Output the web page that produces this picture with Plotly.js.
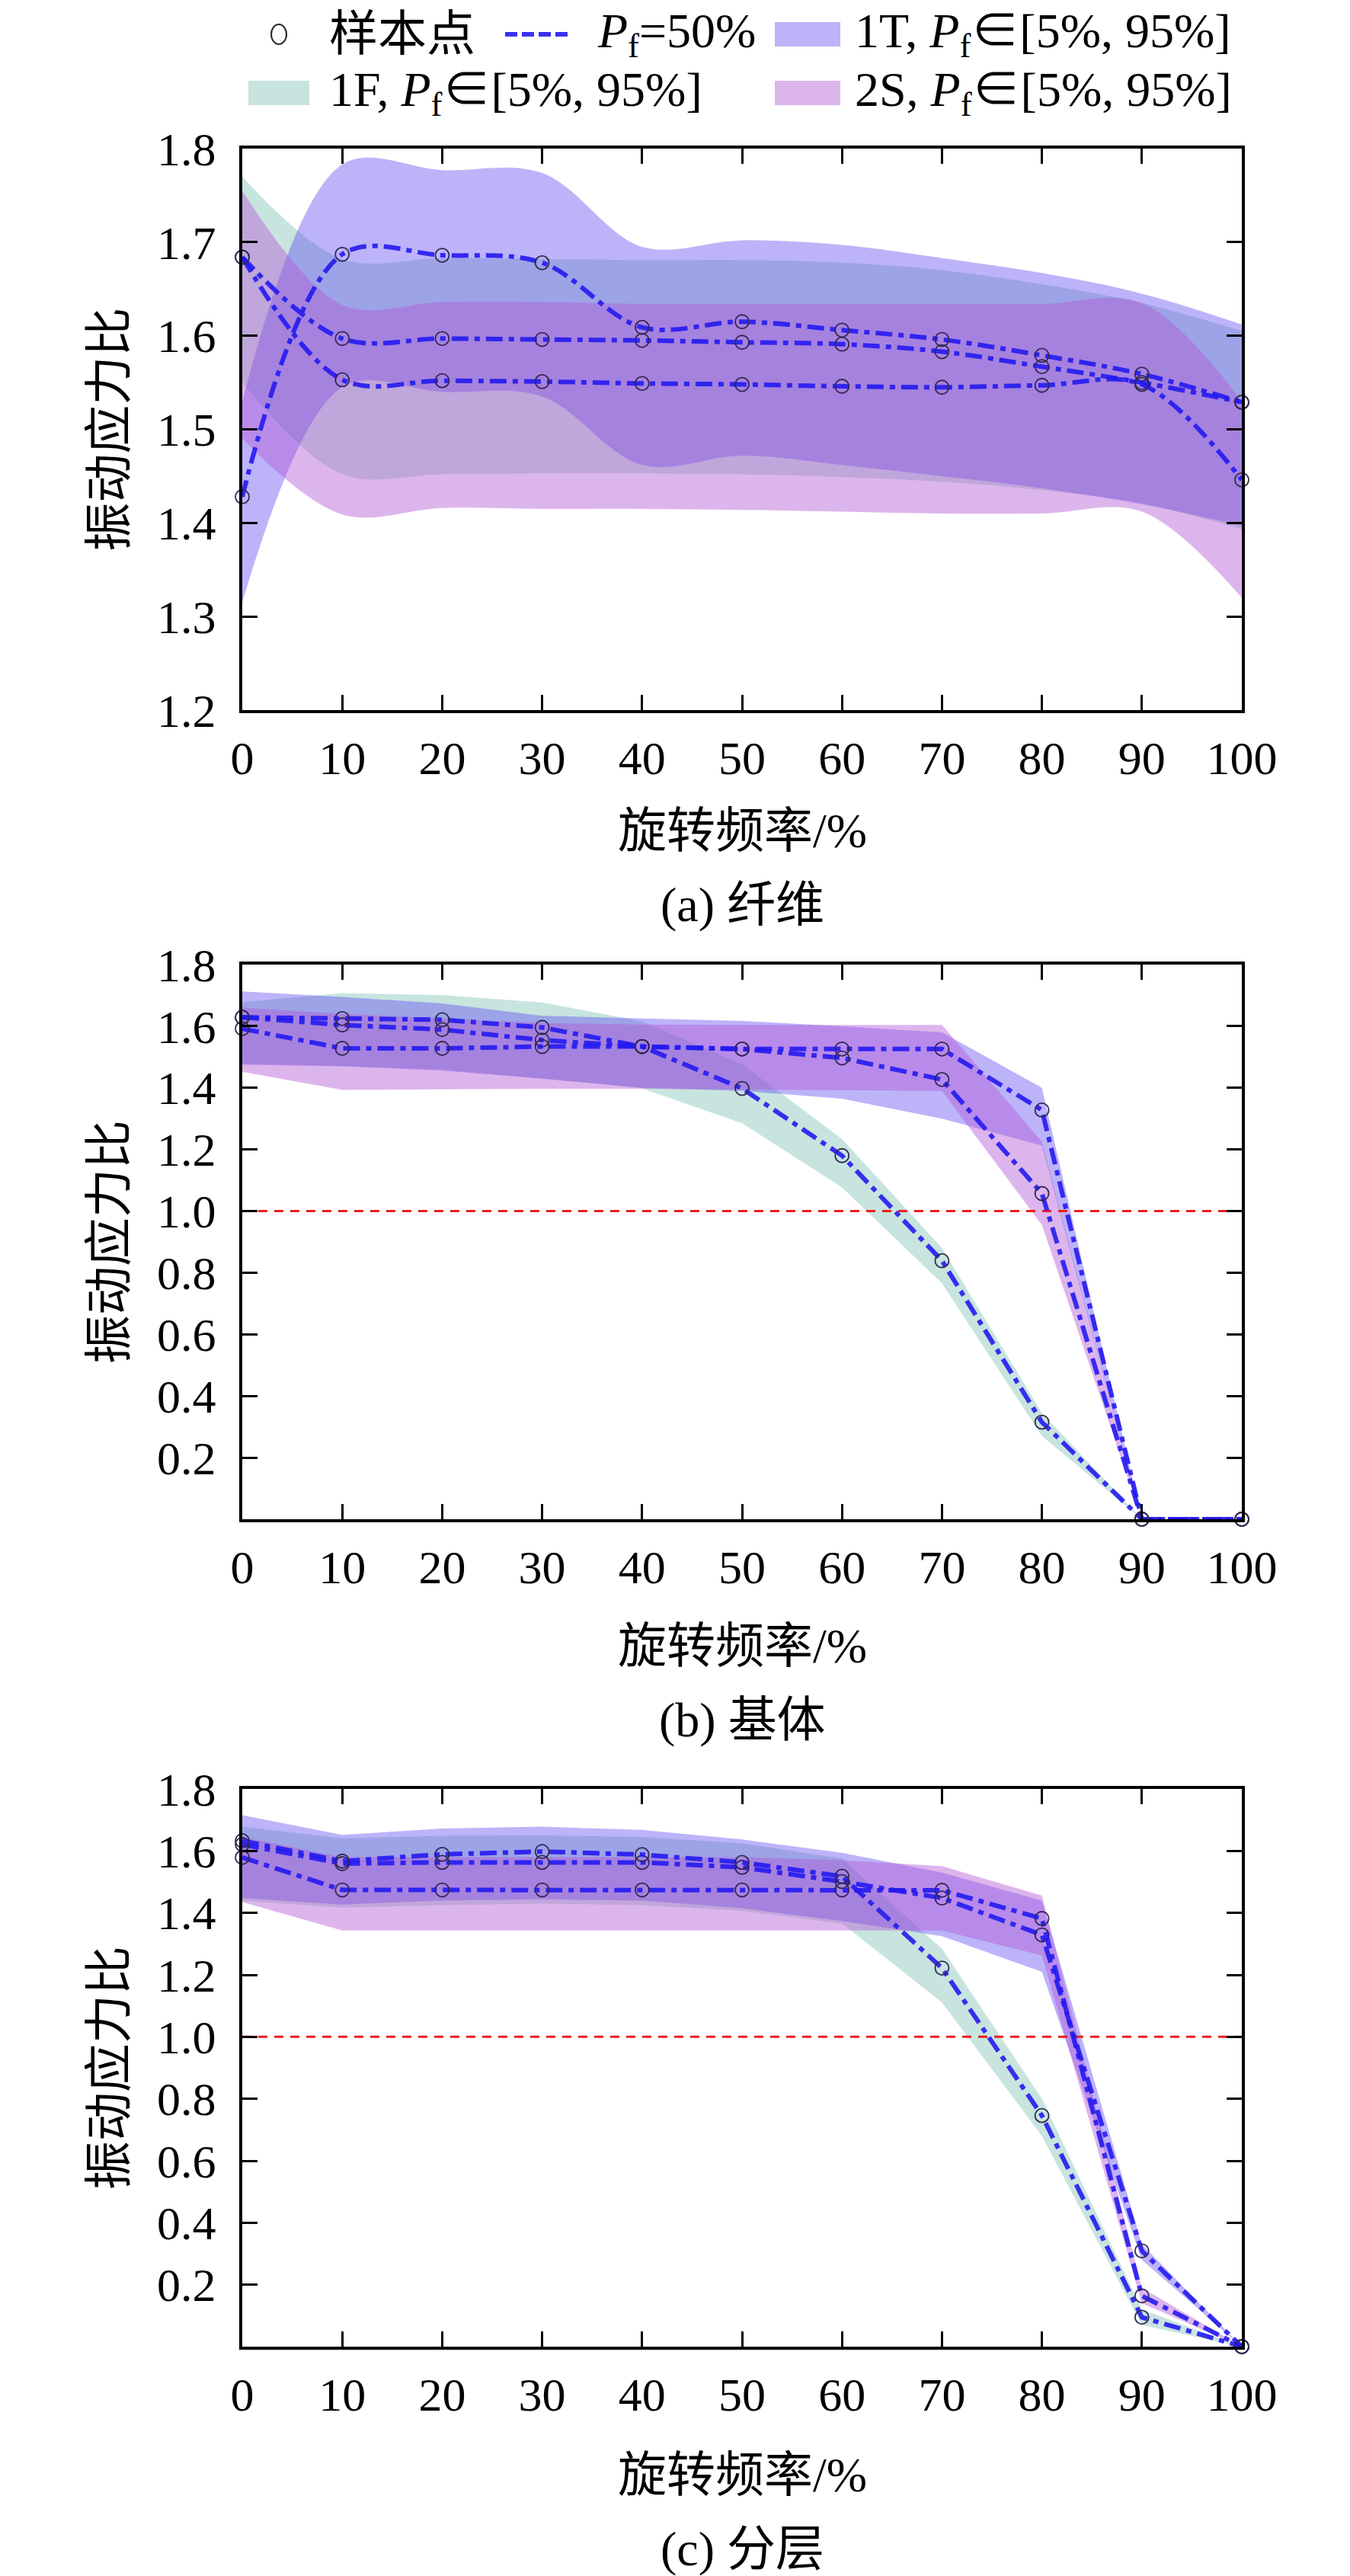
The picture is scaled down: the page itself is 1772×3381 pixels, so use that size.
<!DOCTYPE html>
<html>
<head>
<meta charset="utf-8">
<script src="https://cdn.plot.ly/plotly-3.0.1.min.js"></script>
<style>html,body{margin:0;padding:0;background:#fff}</style>
</head>
<body>
<div id="chart" style="width:1772px;height:3381px"></div>
<script>
// ─── data: rotation frequency (%) vs vibration stress ratio ───
var freq = [0, 10, 20, 30, 40, 50, 60, 70, 80, 90, 100];
var threshold = 1.0;

// (a) fibre
var fib1T_med = [1.428, 1.687, 1.686, 1.678, 1.609, 1.615, 1.606, 1.596, 1.579, 1.559, 1.529];
var fib1T_lo  = [1.315, 1.545, 1.540, 1.535, 1.462, 1.472, 1.462, 1.450, 1.437, 1.420, 1.397];
var fib1T_hi  = [1.530, 1.783, 1.777, 1.774, 1.695, 1.702, 1.697, 1.683, 1.667, 1.645, 1.612];
var fib1F_med = [1.684, 1.597, 1.597, 1.596, 1.595, 1.593, 1.591, 1.583, 1.567, 1.550, 1.529];
var fib1F_lo  = [1.550, 1.452, 1.452, 1.453, 1.453, 1.452, 1.449, 1.444, 1.435, 1.421, 1.393];
var fib1F_hi  = [1.770, 1.682, 1.683, 1.682, 1.681, 1.681, 1.678, 1.670, 1.655, 1.635, 1.605];
var fib2S_med = [1.684, 1.553, 1.552, 1.551, 1.549, 1.548, 1.546, 1.545, 1.547, 1.548, 1.446];
var fib2S_lo  = [1.490, 1.409, 1.416, 1.415, 1.415, 1.414, 1.412, 1.410, 1.410, 1.412, 1.320];
var fib2S_hi  = [1.755, 1.633, 1.636, 1.636, 1.634, 1.634, 1.634, 1.634, 1.634, 1.635, 1.530];

// (b) matrix
var mat1T_med = [1.629, 1.604, 1.589, 1.555, 1.534, 1.526, 1.526, 1.526, 1.328, 0, 0];
var mat1T_lo  = [1.475, 1.470, 1.456, 1.430, 1.400, 1.390, 1.365, 1.300, 1.213, 0, 0];
var mat1T_hi  = [1.713, 1.695, 1.674, 1.634, 1.625, 1.617, 1.600, 1.580, 1.400, 0, 0];
var mat1F_med = [1.629, 1.625, 1.621, 1.596, 1.534, 1.398, 1.180, 0.839, 0.315, 0, 0];
var mat1F_lo  = [1.480, 1.470, 1.460, 1.430, 1.398, 1.285, 1.077, 0.766, 0.270, 0, 0];
var mat1F_hi  = [1.678, 1.707, 1.701, 1.677, 1.616, 1.477, 1.234, 0.880, 0.345, 0, 0];
var mat2S_med = [1.592, 1.528, 1.528, 1.534, 1.534, 1.526, 1.497, 1.427, 1.057, 0, 0];
var mat2S_lo  = [1.452, 1.393, 1.395, 1.397, 1.397, 1.395, 1.392, 1.390, 0.955, 0, 0];
var mat2S_hi  = [1.660, 1.640, 1.625, 1.610, 1.605, 1.604, 1.604, 1.604, 1.225, 0, 0];

// (c) delamination
var del1T_med = [1.621, 1.559, 1.563, 1.563, 1.563, 1.547, 1.501, 1.448, 1.329, 0.309, 0];
var del1T_lo  = [1.448, 1.427, 1.440, 1.444, 1.440, 1.415, 1.374, 1.325, 1.210, 0.280, 0];
var del1T_hi  = [1.715, 1.652, 1.672, 1.678, 1.668, 1.637, 1.594, 1.530, 1.440, 0.330, 0];
var del1F_med = [1.633, 1.567, 1.589, 1.598, 1.588, 1.563, 1.518, 1.222, 0.746, 0.095, 0];
var del1F_lo  = [1.440, 1.417, 1.425, 1.430, 1.425, 1.407, 1.366, 1.111, 0.680, 0.070, 0];
var del1F_hi  = [1.678, 1.641, 1.649, 1.650, 1.645, 1.625, 1.575, 1.284, 0.800, 0.120, 0];
var del2S_med = [1.579, 1.474, 1.474, 1.474, 1.474, 1.474, 1.474, 1.473, 1.382, 0.164, 0];
var del2S_lo  = [1.435, 1.343, 1.343, 1.343, 1.343, 1.343, 1.343, 1.343, 1.263, 0.140, 0];
var del2S_hi  = [1.645, 1.580, 1.580, 1.580, 1.580, 1.580, 1.570, 1.551, 1.456, 0.190, 0];

var yTicksA = [1.2, 1.3, 1.4, 1.5, 1.6, 1.7, 1.8];
var yTicksBC = [0.2, 0.4, 0.6, 0.8, 1.0, 1.2, 1.4, 1.6, 1.8];

var captions = ['(a) 纤维', '(b) 基体', '(c) 分层'];
var xTitle = '旋转频率/%';
var yTitle = '振动应力比';

// ─── style ───
var FONT = '"Liberation Serif", "Times New Roman", "Noto Sans CJK SC", serif';
var W = 1772, H = 3381;
var FILL_1T = 'rgba(95,75,240,0.42)';
var FILL_1F = 'rgba(110,185,170,0.38)';
var FILL_2S = 'rgba(180,90,215,0.45)';
var LINE_C = 'rgba(35,25,240,0.9)';
var DASHDOT = '22px,8px,7px,8px';

// panel boxes in pixels (left/right shared, top/bottom per panel)
var PX_L = 318, PX_R = 1630;
var boxes = [[195, 932], [1266, 1994], [2348, 3080]];
var titleY = [1090, 2160, 3248];
var captionY = [1188, 2257, 3345];

function px(x) { return x / W; }
function py(y) { return 1 - y / H; }

var panels = [
  { shape: 'spline', yr: [1.2, 1.8], ticks: yTicksA,
    T: [fib1T_med, fib1T_lo, fib1T_hi], F: [fib1F_med, fib1F_lo, fib1F_hi], S: [fib2S_med, fib2S_lo, fib2S_hi], ref: false },
  { shape: 'linear', yr: [0, 1.8], ticks: yTicksBC,
    T: [mat1T_med, mat1T_lo, mat1T_hi], F: [mat1F_med, mat1F_lo, mat1F_hi], S: [mat2S_med, mat2S_lo, mat2S_hi], ref: true },
  { shape: 'linear', yr: [0, 1.8], ticks: yTicksBC,
    T: [del1T_med, del1T_lo, del1T_hi], F: [del1F_med, del1F_lo, del1F_hi], S: [del2S_med, del2S_lo, del2S_hi], ref: true }
];

var traces = [];
var layout = {
  width: W, height: H,
  margin: { l: 0, r: 0, t: 0, b: 0, autoexpand: false },
  paper_bgcolor: '#fff', plot_bgcolor: 'rgba(0,0,0,0)',
  showlegend: false,
  font: { family: FONT, color: '#000' },
  annotations: [], shapes: []
};

function band(lo, hi, color, xa, ya, shape) {
  traces.push({ type: 'scatter', mode: 'lines', x: freq, y: lo, xaxis: xa, yaxis: ya,
    line: { width: 0, shape: shape, color: color }, hoverinfo: 'skip' });
  traces.push({ type: 'scatter', mode: 'lines', x: freq, y: hi, xaxis: xa, yaxis: ya,
    fill: 'tonexty', fillcolor: color, line: { width: 0, shape: shape, color: color }, hoverinfo: 'skip' });
}

function median(y, xa, ya, shape) {
  traces.push({ type: 'scatter', mode: 'lines+markers', x: freq, y: y, xaxis: xa, yaxis: ya,
    cliponaxis: false,
    line: { color: LINE_C, width: 6, dash: DASHDOT, shape: shape },
    marker: { symbol: 'circle-open', size: 18, color: 'rgb(50,40,80)', line: { width: 1.8 } } });
}

panels.forEach(function (p, i) {
  var n = i === 0 ? '' : String(i + 1);
  var xa = 'x' + n, ya = 'y' + n;
  // draw order: 1F bottom, 1T, 2S on top
  band(p.F[1], p.F[2], FILL_1F, xa, ya, p.shape);
  band(p.T[1], p.T[2], FILL_1T, xa, ya, p.shape);
  band(p.S[1], p.S[2], FILL_2S, xa, ya, p.shape);
  if (p.ref) {
    traces.push({ type: 'scatter', mode: 'lines', x: [freq[0], freq[freq.length - 1]], y: [threshold, threshold],
      xaxis: xa, yaxis: ya, line: { color: 'rgb(235,30,30)', width: 3, dash: '12px,9px' }, hoverinfo: 'skip' });
  }
  median(p.T[0], xa, ya, p.shape);
  median(p.F[0], xa, ya, p.shape);
  median(p.S[0], xa, ya, p.shape);

  var top = boxes[i][0], bot = boxes[i][1];
  layout['xaxis' + n] = {
    domain: [px(PX_L), px(PX_R)], anchor: ya, range: [0, 100],
    tickvals: freq, ticks: 'inside', ticklen: 20, tickwidth: 3, tickcolor: '#000',
    showline: true, linewidth: 4, linecolor: '#000', mirror: 'ticks',
    showgrid: false, zeroline: false, ticklabelstandoff: 6,
    tickfont: { family: FONT, size: 62, color: '#000' }
  };
  layout['yaxis' + n] = {
    domain: [py(bot), py(top)], anchor: xa, range: p.yr,
    tickvals: p.ticks, tickformat: '.1f', ticks: 'inside', ticklen: 20, tickwidth: 3, tickcolor: '#000',
    showline: true, linewidth: 4, linecolor: '#000', mirror: 'ticks',
    showgrid: false, zeroline: false, ticklabelstandoff: 18,
    tickfont: { family: FONT, size: 62, color: '#000' }
  };

  layout.annotations.push({ xref: 'paper', yref: 'paper', x: px((PX_L + PX_R) / 2), y: py(titleY[i]),
    text: xTitle, showarrow: false, xanchor: 'center', yanchor: 'middle', font: { family: FONT, size: 64, color: '#000' } });
  layout.annotations.push({ xref: 'paper', yref: 'paper', x: px((PX_L + PX_R) / 2), y: py(captionY[i]),
    text: captions[i], showarrow: false, xanchor: 'center', yanchor: 'middle', font: { family: FONT, size: 64, color: '#000' } });
  layout.annotations.push({ xref: 'paper', yref: 'paper', x: px(143), y: py((top + bot) / 2),
    text: yTitle, textangle: -90, showarrow: false, xanchor: 'center', yanchor: 'middle', font: { family: FONT, size: 64, color: '#000' } });
});

// ─── legend (drawn by hand so the swatches match the large type) ───
var PF = '<i>P</i><sub>f</sub>';
var legendFont = { family: FONT, size: 64, color: '#000' };
var row1 = 45, row2 = 122;
function legText(x, y, t) {
  layout.annotations.push({ xref: 'paper', yref: 'paper', x: px(x), y: py(y), text: t,
    showarrow: false, xanchor: 'left', yanchor: 'middle', font: legendFont });
}
function legSwatch(x0, x1, y, color) {
  layout.shapes.push({ type: 'rect', xref: 'paper', yref: 'paper', x0: px(x0), x1: px(x1),
    y0: py(y - 16), y1: py(y + 16), fillcolor: color, line: { width: 0 } });
}
layout.shapes.push({ type: 'circle', xref: 'paper', yref: 'paper', x0: px(356), x1: px(376),
  y0: py(row1 - 13), y1: py(row1 + 13), line: { color: 'rgb(40,40,40)', width: 2 } });
legText(430, row1, '样本点');
layout.shapes.push({ type: 'line', xref: 'paper', yref: 'paper', x0: px(663), x1: px(749),
  y0: py(row1), y1: py(row1), line: { color: LINE_C, width: 6, dash: '16px,6px' } });
legText(782, row1, PF + '=50%');
legSwatch(1017, 1103, row1, FILL_1T);
legText(1120, row1, '1T, ' + PF + '∈[5%, 95%]');
legSwatch(326, 406, row2, FILL_1F);
legText(430, row2, '1F, ' + PF + '∈[5%, 95%]');
legSwatch(1017, 1103, row2, FILL_2S);
legText(1120, row2, '2S, ' + PF + '∈[5%, 95%]');

Plotly.newPlot('chart', traces, layout, { staticPlot: true });
</script>
</body>
</html>
